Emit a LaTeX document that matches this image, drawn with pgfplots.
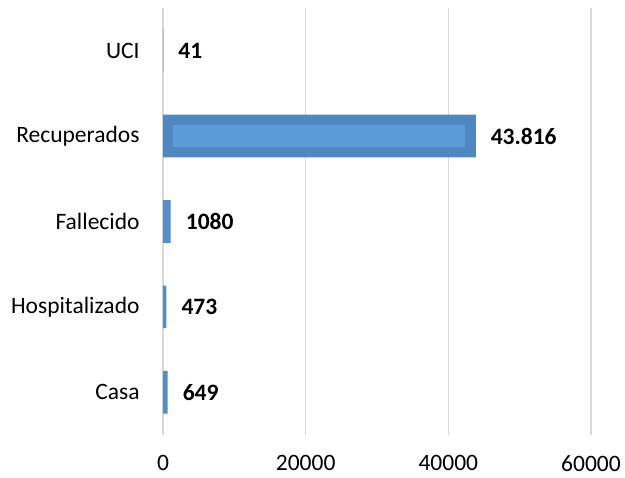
\documentclass[border=0pt]{standalone}
\usepackage{pgfplots}
\pgfplotsset{compat=1.18}
\usepackage{fontspec}
\setmainfont{Carlito}
\definecolor{barblue}{HTML}{548DC7}
\definecolor{barouter}{HTML}{4F88C0}
\definecolor{barinner}{HTML}{5B9BD6}
\definecolor{gridgray}{HTML}{D9D9D9}
\begin{document}
\begin{tikzpicture}
\begin{axis}[
  name=ax,
  scale only axis,
  width=428pt, height=427pt,
  xmin=0, xmax=60000,
  ymin=-0.5, ymax=4.5,
  xtick={0,20000,40000,60000},
  ytick={0,1,2,3,4},
  yticklabels={Casa,Hospitalizado,Fallecido,Recuperados,UCI},
  /pgf/number format/assume math mode=true,
  /pgf/number format/set thousands separator={},
  scaled x ticks=false,
  xmajorgrids,
  major grid style={draw=gridgray, line width=1.5pt},
  axis line style={draw=none},
  tick style={draw=none},
  ticklabel style={font=\fontsize{23.5}{28}\selectfont, inner sep=0pt},
  yticklabel style={anchor=east, xshift=-19pt},
  xticklabel style={anchor=north, yshift=-20pt},
  xbar,
  bar width=0.5,
  clip=false,
]
\addplot[fill=barblue, draw=none, bar shift=0pt,
  nodes near coords,
  point meta=explicit symbolic,
  every node near coord/.style={anchor=west, inner sep=0pt, xshift=15pt,
    font=\bfseries\fontsize{23.5}{28}\selectfont, text=black},
] table[meta=lab] {
x y lab
649 0 649
473 1 473
1080 2 1080
43816 3 43.816
41 4 41
};
\addplot[fill=barouter, draw=none, bar shift=0pt, bar width=0.5] coordinates {(43816,3)};
\addplot[fill=barinner, draw=none, bar shift=0pt, bar width=0.26] coordinates {(42400,3)};
\addplot[fill=barouter, draw=none, bar shift=0pt, bar width=0.26] coordinates {(1400,3)};
\end{axis}
\useasboundingbox ([xshift=-163pt,yshift=-43pt]ax.south west) rectangle ([xshift=34pt,yshift=8pt]ax.north east);
\end{tikzpicture}
\end{document}
